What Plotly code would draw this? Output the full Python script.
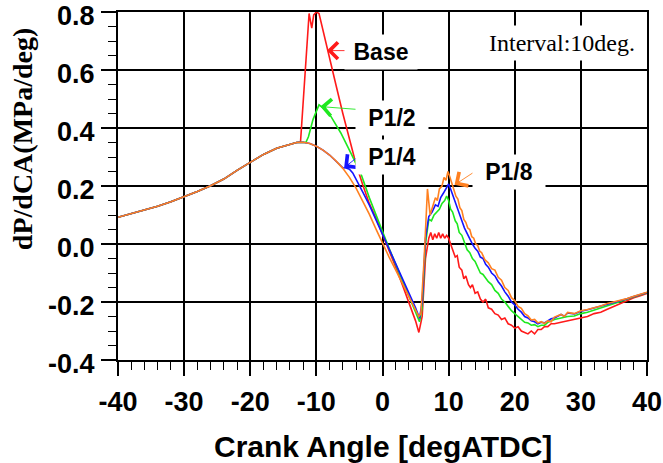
import plotly.graph_objects as go

# ---------------- data ----------------
COMMON_X = [-40, -38, -36, -34, -32, -30, -28, -26, -24, -22, -20, -18, -16, -14, -13, -12]
COMMON_Y = [0.092, 0.104, 0.116, 0.130, 0.146, 0.163, 0.181, 0.201, 0.224, 0.254,
            0.283, 0.309, 0.330, 0.345, 0.350, 0.351]

RED_X = [-12.4, -11.1, -10.9, -10.7, -10.4, -10.0, -9.6, -8.3, -7, -6,
         -5, -4, -3, -2, -1, 0, 1, 2, 3, 4,
         5, 5.5, 6.0, 6.5, 7.0, 7.3, 7.6, 7.9, 8.2, 8.5,
         8.8, 9.1, 9.4, 9.7, 10.0, 10.3, 10.6, 11.0, 11.3, 11.6,
         12.0, 12.3, 12.6, 13.0, 13.3, 13.6, 14.0, 14.4, 14.8, 15.2,
         15.6, 16.0, 16.5, 17.0, 17.5, 18.0, 18.5, 19.0, 19.5, 20.0,
         20.5, 21.0, 21.5, 22.0, 22.5, 23.0, 23.5, 24.0, 24.5, 25.0,
         25.5, 26, 27, 28, 29, 30, 31, 32, 33, 34,
         35, 36, 37, 38, 39, 40]
RED_Y = [0.352, 0.795, 0.770, 0.745, 0.790, 0.800, 0.795, 0.665, 0.545, 0.450,
         0.360, 0.275, 0.205, 0.140, 0.090, 0.035, -0.020, -0.080, -0.140, -0.200,
         -0.265, -0.305, -0.250, -0.050, 0.020, 0.040, 0.015, 0.035, 0.020, 0.040,
         0.020, 0.035, 0.020, 0.030, 0.020, 0.000, -0.020, -0.045, -0.040, -0.080,
         -0.090, -0.120, -0.110, -0.140, -0.150, -0.140, -0.170, -0.165, -0.190, -0.200,
         -0.190, -0.220, -0.225, -0.240, -0.245, -0.260, -0.255, -0.275, -0.280, -0.290,
         -0.285, -0.300, -0.305, -0.310, -0.300, -0.310, -0.295, -0.295, -0.285, -0.285,
         -0.275, -0.275, -0.270, -0.265, -0.262, -0.255, -0.250, -0.240, -0.235, -0.225,
         -0.215, -0.205, -0.195, -0.185, -0.178, -0.170]

GREEN_X = [-11.6, -11.2, -10.5, -9.6, -9.0, -7.8, -6.3, -4.8, -3.3, -2,
           -1, 0, 1, 2, 3, 4, 5, 5.6, 6.0, 6.5,
           7.0, 7.4, 7.8, 8.2, 8.6, 9.0, 9.4, 9.7, 10.0, 10.3,
           10.6, 11.0, 11.3, 11.6, 12.0, 12.4, 12.8, 13.2, 13.6, 14.0,
           14.4, 14.8, 15.2, 15.6, 16.0, 16.5, 17.0, 17.5, 18.0, 18.5,
           19.0, 19.5, 20.0, 20.5, 21.0, 21.5, 22.0, 22.5, 23.0, 23.5,
           24.0, 24.5, 25.0, 25.5, 26.0, 27.0, 28.0, 29.0, 30.0, 31.0,
           32, 33, 34, 35, 36, 37, 38, 39, 40]
GREEN_Y = [0.350, 0.370, 0.430, 0.480, 0.470, 0.440, 0.383, 0.314, 0.245, 0.160,
           0.100, 0.040, -0.015, -0.070, -0.125, -0.180, -0.235, -0.268, -0.220, 0.000,
           0.085, 0.080, 0.100, 0.110, 0.120, 0.140, 0.150, 0.165, 0.150, 0.120,
           0.110, 0.080, 0.070, 0.040, 0.030, 0.005, -0.020, -0.030, -0.050, -0.060,
           -0.080, -0.100, -0.105, -0.120, -0.130, -0.140, -0.160, -0.170, -0.190, -0.200,
           -0.215, -0.230, -0.240, -0.250, -0.260, -0.270, -0.272, -0.280, -0.278, -0.285,
           -0.280, -0.280, -0.270, -0.265, -0.260, -0.255, -0.250, -0.248, -0.240, -0.235,
           -0.228, -0.220, -0.212, -0.205, -0.198, -0.190, -0.183, -0.176, -0.168]

BLUE_X = [-11, -10, -9, -8, -7, -6, -5.5, -5, -4.5, -4,
          -3, -2, -1, 0, 1, 2, 3, 4, 5, 5.6,
          6.0, 6.5, 7.0, 7.5, 8.0, 8.4, 8.8, 9.2, 9.6, 10.0,
          10.3, 10.6, 11.0, 11.3, 11.6, 12.0, 12.4, 12.8, 13.2, 13.6,
          14.0, 14.4, 14.8, 15.2, 15.6, 16.0, 16.5, 17.0, 17.5, 18.0,
          18.5, 19.0, 19.5, 20.0, 20.5, 21.0, 21.5, 22.0, 22.5, 23.0,
          23.5, 24.0, 24.5, 25.0, 25.5, 26.0, 27.0, 27.5, 28.0, 29.0,
          30, 31, 32, 33, 34, 35, 36, 37, 38, 39,
          40]
BLUE_Y = [0.347, 0.337, 0.324, 0.307, 0.286, 0.263, 0.262, 0.258, 0.245, 0.225,
          0.180, 0.135, 0.085, 0.035, -0.015, -0.070, -0.120, -0.170, -0.220, -0.256,
          -0.200, 0.020, 0.095, 0.110, 0.135, 0.130, 0.160, 0.175, 0.190, 0.207,
          0.190, 0.170, 0.140, 0.125, 0.100, 0.080, 0.055, 0.035, 0.020, 0.000,
          -0.015, -0.025, -0.045, -0.050, -0.070, -0.080, -0.100, -0.110, -0.130, -0.145,
          -0.165, -0.180, -0.200, -0.210, -0.225, -0.235, -0.250, -0.255, -0.265, -0.268,
          -0.275, -0.270, -0.272, -0.265, -0.258, -0.255, -0.243, -0.249, -0.238, -0.241,
          -0.232, -0.227, -0.221, -0.215, -0.207, -0.201, -0.195, -0.189, -0.181, -0.175,
          -0.167]

ORANGE_X = [-11, -10, -9, -8, -7, -6, -5, -4, -3, -2,
            -1, 0, 1, 2, 3, 4, 5, 5.5, 5.8, 6.3,
            6.8, 7.2, 7.6, 8.0, 8.3, 8.6, 9.0, 9.3, 9.6, 9.9,
            10.2, 10.5, 10.8, 11.1, 11.4, 11.7, 12.0, 12.3, 12.6, 12.9,
            13.2, 13.5, 13.8, 14.1, 14.4, 14.7, 15.0, 15.5, 16, 16.5,
            17, 17.5, 18, 18.5, 19, 19.5, 20, 20.5, 21, 21.5,
            22, 22.5, 23, 23.5, 24, 24.5, 25, 25.5, 26, 27,
            27.5, 28, 29, 30, 31, 32, 33, 34, 35, 36,
            37, 38, 39, 40]
ORANGE_Y = [0.347, 0.337, 0.324, 0.307, 0.286, 0.261, 0.230, 0.193, 0.150, 0.103,
            0.052, 0.002, -0.045, -0.090, -0.135, -0.180, -0.225, -0.250, -0.240, -0.050,
            0.190, 0.100, 0.130, 0.160, 0.150, 0.190, 0.200, 0.230, 0.220, 0.250,
            0.230, 0.210, 0.190, 0.165, 0.155, 0.125, 0.115, 0.085, 0.075, 0.055,
            0.050, 0.025, 0.020, 0.000, -0.005, -0.025, -0.030, -0.055, -0.065, -0.085,
            -0.090, -0.115, -0.125, -0.150, -0.160, -0.185, -0.195, -0.215, -0.222, -0.240,
            -0.248, -0.262, -0.260, -0.272, -0.268, -0.274, -0.265, -0.268, -0.252, -0.243,
            -0.250, -0.236, -0.240, -0.230, -0.226, -0.220, -0.214, -0.205, -0.200, -0.194,
            -0.188, -0.180, -0.174, -0.166]

SERIES_NAMES = ["Base", "P1/2", "P1/4", "P1/8"]
SERIES_COLORS = ["#FF1A1A", "#1EE81E", "#1414FF", "#FF8020"]

X_TICKS = [-40, -30, -20, -10, 0, 10, 20, 30, 40]
X_TICK_TEXT = ["-40", "-30", "-20", "-10", "0", "10", "20", "30", "40"]
Y_TICKS = [-0.4, -0.2, 0.0, 0.2, 0.4, 0.6, 0.8]
Y_TICK_TEXT = ["-0.4", "-0.2", "0.0", "0.2", "0.4", "0.6", "0.8"]

# label positions (data coords) and arrow tips / tails
LABEL_X = [-0.3, 1.5, 1.5, 19.2]
LABEL_Y = [0.661, 0.436, 0.299, 0.249]
ARROW_TIP_X = [-8.4, -9.4, -5.8, 10.9]
ARROW_TIP_Y = [0.667, 0.474, 0.263, 0.204]
ARROW_TAIL_X = [-4.6, -3.1, -2.4, 13.9]
ARROW_TAIL_Y = [0.667, 0.463, 0.325, 0.249]

X_TITLE = "Crank Angle [degATDC]"
Y_TITLE = "dP/dCA(MPa/deg)"
NOTE = "Interval:10deg."

# ---------------- build series ----------------
red_x = COMMON_X[:-1] + RED_X
red_y = COMMON_Y[:-1] + RED_Y
green_x = COMMON_X + GREEN_X
green_y = COMMON_Y + GREEN_Y
blue_x = COMMON_X + BLUE_X
blue_y = COMMON_Y + BLUE_Y
orange_x = COMMON_X + ORANGE_X
orange_y = COMMON_Y + ORANGE_Y

fig = go.Figure()
for name, xs, ys, col in zip(SERIES_NAMES,
                             [red_x, green_x, blue_x, orange_x],
                             [red_y, green_y, blue_y, orange_y],
                             SERIES_COLORS):
    fig.add_trace(go.Scatter(x=xs, y=ys, mode="lines", name=name,
                             line=dict(color=col, width=1.6), showlegend=False))

BOLD_SANS = dict(family="Liberation Sans, Arial", color="black", weight="bold")

annotations = []
for i in range(4):
    annotations.append(dict(
        x=ARROW_TIP_X[i], y=ARROW_TIP_Y[i], xref="x", yref="y",
        ax=ARROW_TAIL_X[i], ay=ARROW_TAIL_Y[i], axref="x", ayref="y",
        text="", showarrow=True, arrowhead=4, arrowsize=3.6, arrowwidth=0.9,
        arrowcolor=SERIES_COLORS[i], standoff=0, startstandoff=0))
for i in range(4):
    annotations.append(dict(
        x=LABEL_X[i], y=LABEL_Y[i], xref="x", yref="y", text=SERIES_NAMES[i],
        showarrow=False, bgcolor="white", width=66, height=28, borderpad=3,
        font=dict(size=23, **BOLD_SANS)))
annotations.append(dict(
    x=27.1, y=0.692, xref="x", yref="y", text=NOTE, showarrow=False,
    bgcolor="white", width=152, height=28, borderpad=3,
    font=dict(family="Liberation Serif, Times New Roman", size=24, color="black")))
# y tick labels (sit a few pixels below their ticks, as in the reference)
for v, t in zip(Y_TICKS, Y_TICK_TEXT):
    annotations.append(dict(
        x=-0.039, y=v, xref="paper", yref="y", text=t, showarrow=False,
        xanchor="right", yanchor="middle", yshift=-4,
        font=dict(size=27, **BOLD_SANS)))
annotations.append(dict(
    x=-0.18, y=0.634, xref="paper", yref="paper", text=Y_TITLE, textangle=-90,
    showarrow=False, xanchor="center", yanchor="middle",
    font=dict(family="Liberation Serif, Times New Roman", size=28, color="black", weight="bold")))
annotations.append(dict(
    x=0.5, y=-0.249, xref="paper", yref="paper", text=X_TITLE,
    showarrow=False, xanchor="center", yanchor="middle",
    font=dict(size=30, **BOLD_SANS)))

axis_common = dict(
    showgrid=True, gridcolor="black", gridwidth=1.5,
    showline=True, linecolor="black", linewidth=2, mirror=True,
    ticks="outside", tickcolor="black", tickwidth=1.5,
    zeroline=False, tickmode="array", automargin=False,
    ticklabeloverflow="allow",
)

fig.update_layout(
    width=663, height=463,
    margin=dict(l=118, r=16, t=12, b=103),
    paper_bgcolor="white", plot_bgcolor="white",
    annotations=annotations,
    xaxis=dict(range=[-40, 40], tickvals=X_TICKS, ticktext=X_TICK_TEXT,
               ticklen=14, ticklabelstandoff=3,
               minor=dict(tick0=0, dtick=2, ticklen=8, tickwidth=1.3, tickcolor="black",
                          ticks="outside", showgrid=False),
               tickfont=dict(size=27, **BOLD_SANS),
               **axis_common),
    yaxis=dict(range=[-0.4, 0.8002], tickvals=Y_TICKS, ticktext=Y_TICK_TEXT,
               showticklabels=False, ticklen=15,
               minor=dict(tick0=0, dtick=0.05, ticklen=8, tickwidth=1.3, tickcolor="black",
                          ticks="outside", showgrid=False),
               **axis_common),
)

fig.write_html("out.html")
